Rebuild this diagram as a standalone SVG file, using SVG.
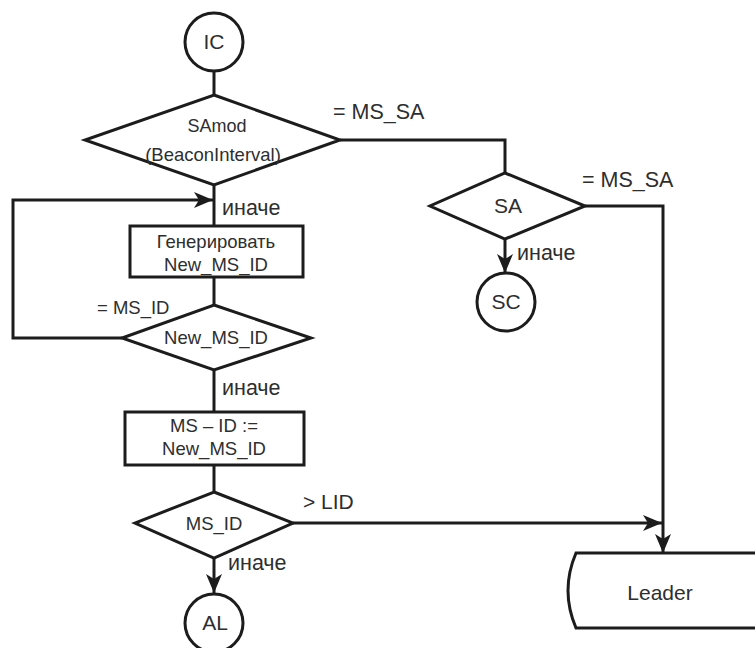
<svg xmlns="http://www.w3.org/2000/svg" width="755" height="648" viewBox="0 0 755 648">
<style>
.s{fill:#fff;stroke:#1c1c1c;stroke-width:3}
.c{fill:none;stroke:#1c1c1c;stroke-width:3}
text{font-family:"Liberation Sans",Arial,sans-serif;fill:#2e2e2e}
.m{text-anchor:middle}
</style>
<defs>
<marker id="ar" markerUnits="userSpaceOnUse" markerWidth="20" markerHeight="16" refX="19" refY="8" orient="auto">
<path d="M0,0 L19,8 L0,16 L5,8 z" fill="#1c1c1c"/>
</marker>
</defs>
<g id="connectors">
<path class="c" d="M214,71 V95"/>
<path class="c" d="M214,185 V226"/>
<path class="c" d="M122,338 H13 V200 H213" marker-end="url(#ar)"/>
<path class="c" d="M214,277 V305"/>
<path class="c" d="M214,370 V412"/>
<path class="c" d="M214,465 V492"/>
<path class="c" d="M214,558 V593" marker-end="url(#ar)"/>
<path class="c" d="M340,140 H505 V173"/>
<path class="c" d="M505,239 V273" marker-end="url(#ar)"/>
<path class="c" d="M585,206 H663 V553" marker-end="url(#ar)"/>
<path class="c" d="M293,523 H662" marker-end="url(#ar)"/>
<text x="333" y="119" font-size="21.5">= MS_SA</text>
<text x="582" y="187" font-size="21.5">= MS_SA</text>
<text x="222" y="215" font-size="21.5">иначе</text>
<text x="97" y="314" font-size="18.5">= MS_ID</text>
<text x="222" y="395" font-size="21.5">иначе</text>
<text x="303" y="509" font-size="21">&gt; LID</text>
<text x="228" y="570" font-size="21.5">иначе</text>
<text x="517" y="260" font-size="21.5">иначе</text>
</g>
<g id="IC"><circle class="s" cx="214" cy="42" r="29"/><text class="m" x="214" y="49" font-size="21">IC</text></g>
<g id="SAmod"><polygon class="s" points="214,95 340,140 214,185 85,140"/><text class="m" x="217" y="132" font-size="18">SAmod</text><text class="m" x="213" y="161" font-size="18.5">(BeaconInterval)</text></g>
<g id="gen"><rect class="s" x="130" y="226" width="173" height="51"/><text class="m" x="216" y="248" font-size="18.5">Генерировать</text><text class="m" x="216" y="271" font-size="18.5">New_MS_ID</text></g>
<g id="check"><polygon class="s" points="214,305 311,338 214,370 122,338"/><text class="m" x="216" y="344" font-size="18.5">New_MS_ID</text></g>
<g id="assign"><rect class="s" x="125" y="412" width="179" height="53"/><text class="m" x="214" y="432" font-size="18.5">MS – ID :=</text><text class="m" x="214" y="455" font-size="18.5">New_MS_ID</text></g>
<g id="msid"><polygon class="s" points="214,492 293,523 214,558 135,523"/><text class="m" x="214" y="530" font-size="18.5">MS_ID</text></g>
<g id="AL"><circle class="s" cx="214" cy="623" r="29"/><text class="m" x="215" y="630" font-size="21">AL</text></g>
<g id="SA"><polygon class="s" points="505,173 585,206 505,239 430,206"/><text class="m" x="508" y="213" font-size="21">SA</text></g>
<g id="SC"><circle class="s" cx="506" cy="302" r="29"/><text class="m" x="506" y="309" font-size="21">SC</text></g>
<g id="Leader"><path class="s" d="M756,553 H576 Q560,590.5 576,628 H756"/><text class="m" x="660" y="600" font-size="21">Leader</text></g>
</svg>
